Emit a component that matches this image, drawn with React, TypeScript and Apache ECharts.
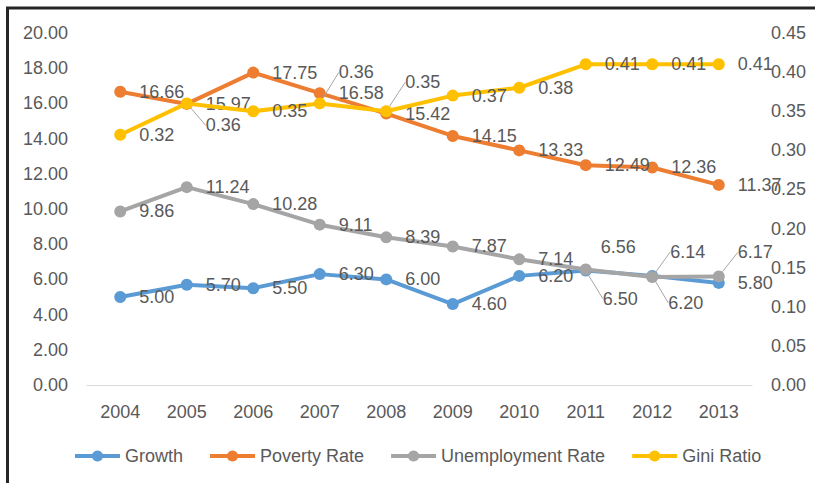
import React, { useEffect, useRef } from "react";
import * as echarts from "echarts";

const YEARS = ["2004", "2005", "2006", "2007", "2008", "2009", "2010", "2011", "2012", "2013"];
const GROWTH = [5.0, 5.7, 5.5, 6.3, 6.0, 4.6, 6.2, 6.5, 6.2, 5.8];
const POVERTY = [16.66, 15.97, 17.75, 16.58, 15.42, 14.15, 13.33, 12.49, 12.36, 11.37];
const UNEMPLOYMENT = [9.86, 11.24, 10.28, 9.11, 8.39, 7.87, 7.14, 6.56, 6.14, 6.17];
const GINI = [0.32, 0.36, 0.35, 0.36, 0.35, 0.37, 0.38, 0.41, 0.41, 0.41];

const SERIES_NAMES = ["Growth", "Poverty Rate", "Unemployment Rate", "Gini Ratio"];
const COLORS = ["#5B9BD5", "#ED7D31", "#A5A5A5", "#FFC000"];

// label displacement (layout only): seriesIndex -> dataIndex -> [dx, dy, showLeaderLine]
const LABEL_SHIFTS: Record<number, Record<number, [number, number, boolean]>> = {
  0: { 7: [-2, 28, true], 8: [-3, 27, true] },
  2: { 7: [-4, -23, false], 8: [-1, -25, true], 9: [0, -24, true] },
  3: { 1: [0, 22, true], 3: [0, -31, true], 4: [0, -29, true] },
};

const FONT = "Liberation Sans";
const TEXT_COLOR = "#595959";

export default function App() {
  const ref = useRef<HTMLDivElement>(null);

  useEffect(() => {
    document.body.style.margin = "0";
    if (!ref.current) return;
    const chart = echarts.init(ref.current, null, { renderer: "svg" });

    const allValues = [GROWTH, POVERTY, UNEMPLOYMENT, GINI];

    const series = allValues.map((vals, si) => ({
      name: SERIES_NAMES[si],
      type: "line",
      yAxisIndex: si === 3 ? 1 : 0,
      data: vals.map((v, di) => {
        const s = LABEL_SHIFTS[si] && LABEL_SHIFTS[si][di];
        return s && s[2] ? { value: v, labelLine: { show: true } } : v;
      }),
      symbol: "circle",
      symbolSize: 12,
      lineStyle: { width: 4, color: COLORS[si] },
      itemStyle: { color: COLORS[si] },
      label: {
        show: true,
        position: "right",
        distance: 13,
        color: TEXT_COLOR,
        fontSize: 18,
        fontFamily: FONT,
        formatter: (p: any) => Number(p.value).toFixed(2),
      },
      labelLine: {
        show: false,
        lineStyle: { color: "#a6a6a6", width: 1 },
      },
      labelLayout: (params: any) => {
        const s = LABEL_SHIFTS[si] && LABEL_SHIFTS[si][params.dataIndex];
        if (!s) return {};
        return { dx: s[0], dy: s[1] };
      },
      z: 2 + si,
    }));

    chart.setOption({
      animation: false,
      color: COLORS,
      textStyle: { fontFamily: FONT },
      graphic: [
        {
          type: "polyline",
          shape: { points: [[7.5, 483], [7.5, 8], [815, 8]] },
          style: { stroke: "#262626", lineWidth: 3, fill: "none" },
          silent: true,
        },
      ],
      grid: { left: 87, right: 63, top: 33, bottom: 98, containLabel: false },
      legend: {
        left: 68,
        top: 442,
        itemWidth: 45,
        itemHeight: 14,
        itemGap: 25,
        lineStyle: { width: 4 },
        textStyle: { color: TEXT_COLOR, fontSize: 18, fontFamily: FONT },
        data: SERIES_NAMES,
      },
      xAxis: {
        type: "category",
        data: YEARS,
        boundaryGap: true,
        axisLine: { show: true, lineStyle: { color: "#d9d9d9", width: 1 } },
        axisTick: { show: false },
        axisLabel: { color: TEXT_COLOR, fontSize: 18, fontFamily: FONT, margin: 18 },
      },
      yAxis: [
        {
          type: "value",
          min: 0,
          max: 20,
          interval: 2,
          axisLine: { show: false },
          axisTick: { show: false },
          splitLine: { show: false },
          axisLabel: {
            color: TEXT_COLOR,
            fontSize: 18,
            fontFamily: FONT,
            margin: 19,
            formatter: (v: number) => v.toFixed(2),
          },
        },
        {
          type: "value",
          min: 0,
          max: 0.45,
          interval: 0.05,
          axisLine: { show: false },
          axisTick: { show: false },
          splitLine: { show: false },
          axisLabel: {
            color: TEXT_COLOR,
            fontSize: 18,
            fontFamily: FONT,
            margin: 19,
            formatter: (v: number) => v.toFixed(2),
          },
        },
      ],
      series,
    });

    return () => chart.dispose();
  }, []);

  return <div ref={ref} style={{ width: 815, height: 483 }} />;
}
